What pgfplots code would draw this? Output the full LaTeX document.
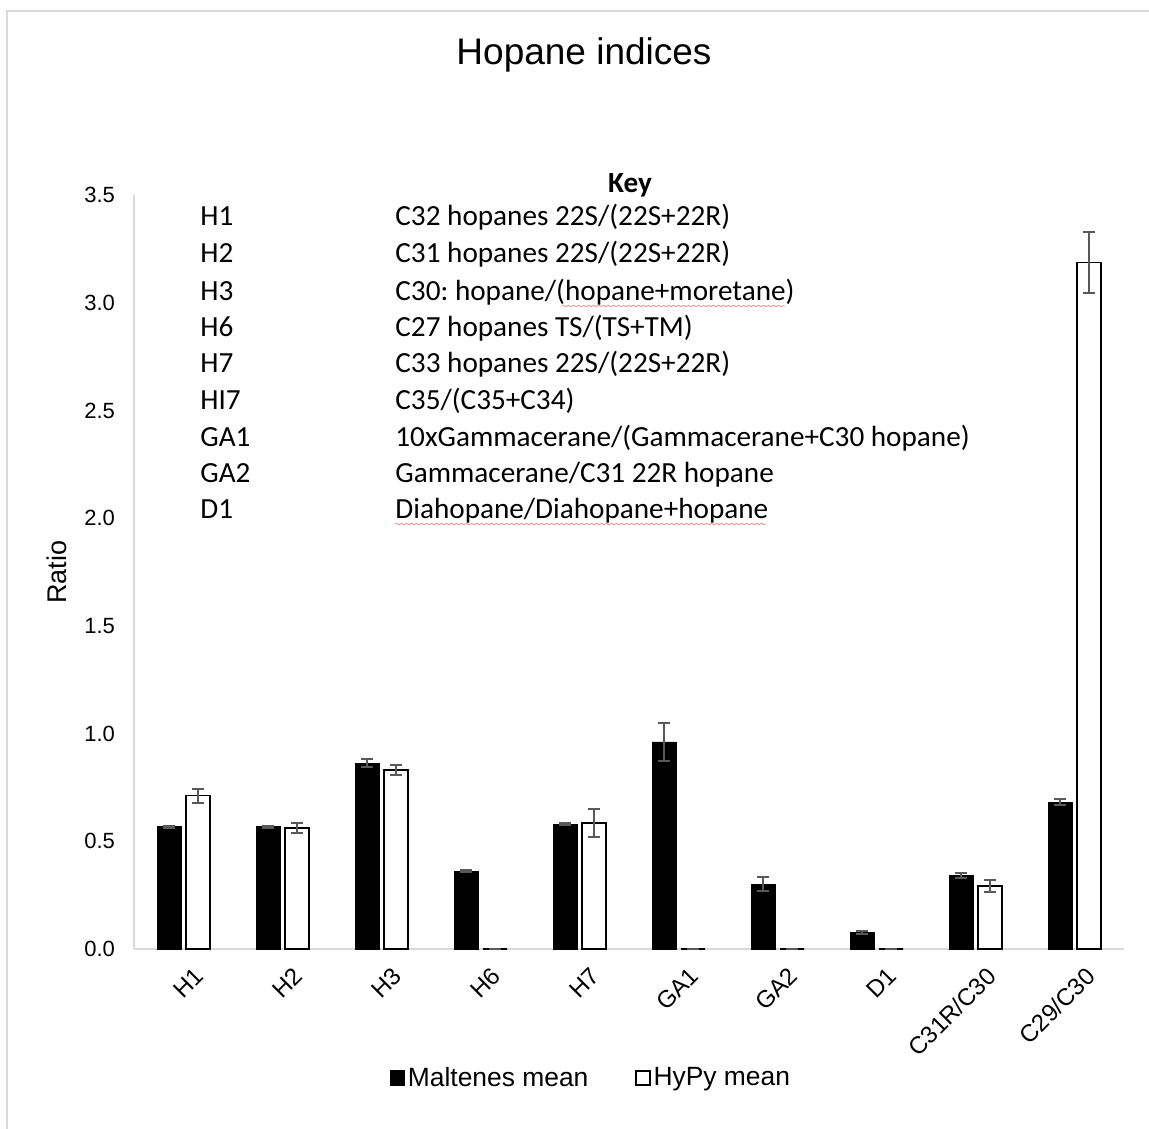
\documentclass[border=0pt]{standalone}
\usepackage{fontspec}
\setmainfont{Liberation Sans}
\newfontfamily\keyfont{Carlito}
\usepackage{pgfplots}
\pgfplotsset{compat=1.18}
\usetikzlibrary{decorations.pathmorphing}
\definecolor{errgray}{HTML}{595959}
\definecolor{axgray}{HTML}{D9D9D9}
\frenchspacing
\begin{document}
\begin{tikzpicture}[x=0.5pt,y=-0.5pt]
\useasboundingbox (0,0) rectangle (1149,1128);
\draw[axgray, line width=1pt] (7,1132) -- (7,11) -- (1152,11);
\begin{axis}[
  at={(67pt,-474.5pt)}, anchor=south west,
  scale only axis, width=495pt, height=377pt,
  ymin=0, ymax=3.5, ytick={0,0.5,1,1.5,2,2.5,3,3.5},
  xmin=-0.5, xmax=9.5, xtick={0,...,9},
  xticklabels={H1,H2,H3,H6,H7,GA1,GA2,D1,C31R/C30,C29/C30},
  axis x line=bottom, axis y line=left,
  axis line style={axgray, line width=1pt, -},
  major tick length=0pt,
  /pgf/number format/assume math mode=true,
  yticklabel style={/pgf/number format/.cd, fixed, fixed zerofill, precision=1, /tikz/.cd,
    font=\fontsize{11}{13}\selectfont, xshift=-6pt},
  xticklabel style={rotate=45, anchor=north east, font=\fontsize{12}{14}\selectfont, yshift=-6pt, xshift=1pt},
  ylabel={Ratio},
  ylabel style={at={(axis description cs:-0.078,0.5)}, anchor=center, font=\fontsize{13.5}{16}\selectfont},
  ybar=2.5pt, bar width=12pt,
  legend columns=2,
  legend style={at={(0.462,-0.171)}, anchor=center, draw=none, fill=none,
    font=\fontsize{13.2}{16}\selectfont,
    /tikz/every even column/.append style={column sep=22pt},
    nodes={inner sep=1.5pt}},
  legend image code/.code={\draw[#1, line width=0.6pt] (0pt,-3.5pt) rectangle (7pt,3.5pt);},
  error bars/y dir=both, error bars/y explicit,
  error bars/error bar style={errgray, line width=1pt},
  error bars/error mark options={errgray, line width=1pt, mark size=3pt, rotate=90},
]
\addplot[fill=black, draw=black] coordinates {
  (0,0.568) +- (0,0.005)
  (1,0.568) +- (0,0.005)
  (2,0.863) +- (0,0.019)
  (3,0.361) +- (0,0.005)
  (4,0.580) +- (0,0.004)
  (5,0.961) +- (0,0.088)
  (6,0.300) +- (0,0.033)
  (7,0.077) +- (0,0.005)
  (8,0.343) +- (0,0.012)
  (9,0.682) +- (0,0.013)
};
\addplot[fill=white, draw=black, line width=0.8pt] coordinates {
  (0,0.712) +- (0,0.032)
  (1,0.562) +- (0,0.022)
  (2,0.832) +- (0,0.022)
  (3,0) +- (0,0)
  (4,0.586) +- (0,0.065)
  (5,0) +- (0,0)
  (6,0) +- (0,0)
  (7,0) +- (0,0)
  (8,0.292) +- (0,0.029)
  (9,3.186) +- (0,0.142)
};
\legend{Maltenes mean, HyPy mean}
\end{axis}
\node[font=\fontsize{18.5}{22}\selectfont] at (584,55) {Hopane indices};
\begin{scope}[every node/.style={inner sep=0pt, anchor=base west, font=\keyfont\fontsize{14.6}{17}\selectfont}]
\node[anchor=base, font=\keyfont\bfseries\fontsize{14.6}{17}\selectfont] at (630,193) {Key};
\foreach \y/\a in {226/H1, 263/H2, 300/H3, 336/H6, 372/H7, 409/HI7, 446/GA1, 482/GA2, 518/D1}{
  \node at (200,\y) {\a};
}
\node at (395,226) {C32 hopanes 22S/(22S+22R)};
\node at (395,263) {C31 hopanes 22S/(22S+22R)};
\node at (395,300) {C30: hopane/(hopane+moretane)};
\node at (395,336) {C27 hopanes TS/(TS+TM)};
\node at (395,372) {C33 hopanes 22S/(22S+22R)};
\node at (395,409) {C35/(C35+C34)};
\node at (395,446) {10xGammacerane/(Gammacerane+C30 hopane)};
\node at (395,482) {Gammacerane/C31 22R hopane};
\node at (395,518) {Diahopane/Diahopane+hopane};
\end{scope}
\draw[red!45, line width=0.4pt, decorate, decoration={snake, amplitude=0.4pt, segment length=2.5pt}] (562,306) -- (785,306);
\draw[red!45, line width=0.4pt, decorate, decoration={snake, amplitude=0.4pt, segment length=2.5pt}] (395,524) -- (766,524);
\end{tikzpicture}
\end{document}
